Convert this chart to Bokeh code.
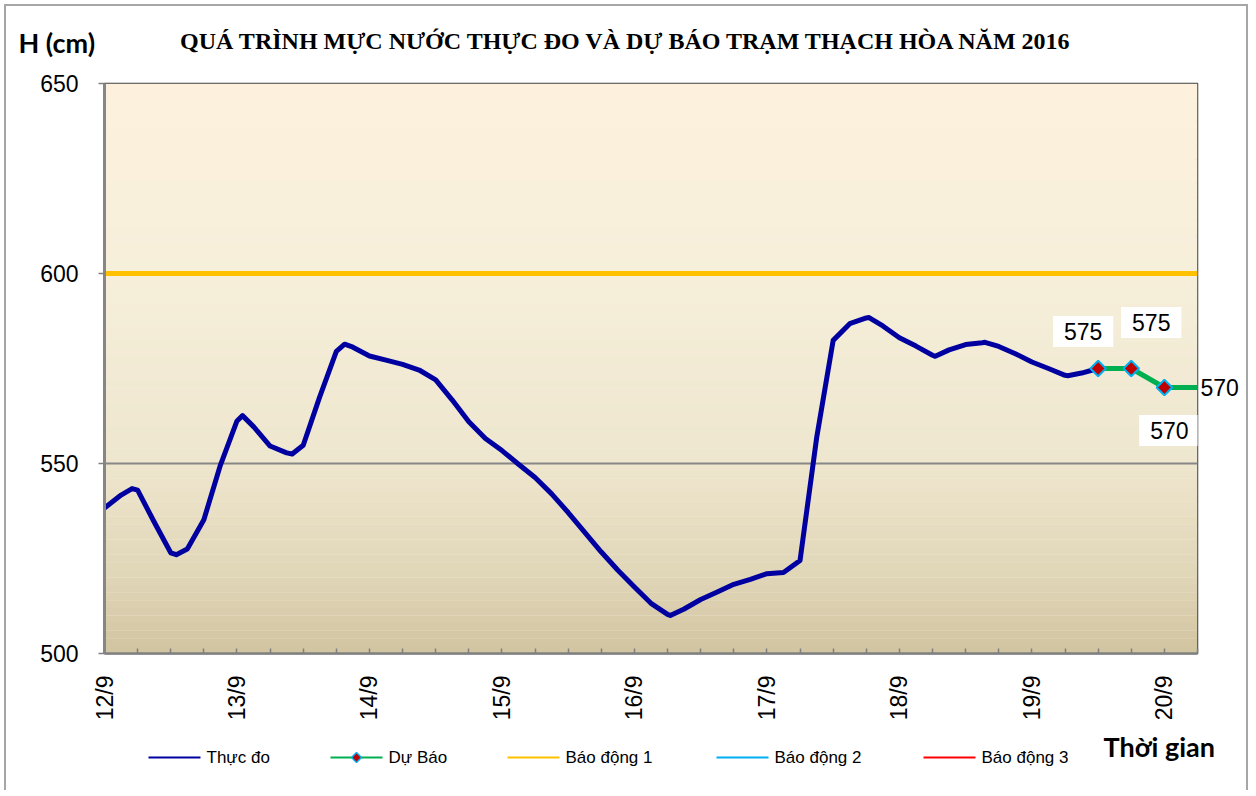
import math
import numpy as np
from bokeh.plotting import figure
from bokeh.layouts import column
from bokeh.models import Range1d, FixedTicker, Label, LinearAxis
from bokeh.core.properties import value
from bokeh.embed import file_html
from bokeh.resources import INLINE

# ---------------- data ----------------
# hours since 12/9 00:00
hours_meas = [0, 3, 5, 6, 9, 12, 13, 15, 18, 21, 24, 25, 27, 30, 33, 34, 36, 39, 42, 43.5,
              45, 48, 51, 54, 57, 60, 63, 66, 69, 72, 75, 78, 81, 84, 87, 90, 93, 96, 99,
              102, 102.5, 105, 108, 111, 114, 117, 120, 123, 126, 129, 132, 135, 138, 138.5,
              141, 144, 147, 150, 150.5, 153, 156, 159, 159.5, 162, 165, 168, 171, 174,
              174.5, 177, 180]
h_meas = [538.3, 541.7, 543.4, 543.0, 534.6, 526.5, 526.0, 527.5, 535.2, 549.6, 561.2,
          562.6, 559.7, 554.6, 552.8, 552.5, 554.8, 567.6, 579.5, 581.4, 580.6, 578.3,
          577.2, 576.1, 574.6, 572.0, 566.7, 561.0, 556.6, 553.4, 549.8, 546.3, 542.0,
          537.1, 531.9, 526.7, 521.9, 517.5, 513.2, 510.3, 510.0, 511.7, 514.2, 516.2,
          518.2, 519.5, 521.0, 521.3, 524.5, 556.7, 582.4, 586.8, 588.3, 588.4, 586.2,
          583.1, 580.9, 578.5, 578.2, 579.9, 581.3, 581.8, 581.9, 580.8, 578.9, 576.7,
          575.0, 573.2, 573.1, 573.8, 575.0]
hours_fc = [180, 186, 192, 198]
h_fc = [575, 575, 570, 570]
bao_dong_1 = 600
t_start, t_end = 0, 198
tick_hours = [0, 6, 12, 18, 24, 30, 36, 42, 48, 54, 60, 66, 72, 78, 84, 90, 96, 102, 108,
              114, 120, 126, 132, 138, 144, 150, 156, 162, 168, 174, 180, 186, 192, 198]
day_hours = [0, 24, 48, 72, 96, 120, 144, 168, 192]
day_labels = ["12/9", "13/9", "14/9", "15/9", "16/9", "17/9", "18/9", "19/9", "20/9"]
y_ticks = [500, 550, 600, 650]
y_min, y_max = 500, 650
title_text = "QUÁ TRÌNH MỰC NƯỚC THỰC ĐO VÀ DỰ BÁO TRẠM THẠCH HÒA NĂM 2016"
y_title = "H (cm)"
x_title = "Thời gian"
legend_labels = ["Thực đo", "Dự Báo", "Báo động 1", "Báo động 2", "Báo động 3"]

# ---------------- layout geometry (page pixels) ----------------
X0, Y0 = 6, 6          # content origin inside the outer chart border
W = 1240               # content width
HEAD_Y0, HEAD_Y1 = 6, 60
MAIN_Y0, MAIN_Y1 = 60, 730
FOOT_Y0, FOOT_Y1 = 730, 790
FRAME_L, FRAME_R, FRAME_T, FRAME_B = 104, 1197, 83, 653


def blank_fig(ytop, ybot):
    f = figure(width=W, height=ybot - ytop, x_range=Range1d(X0, X0 + W),
               y_range=Range1d(ybot, ytop), output_backend="svg", toolbar_location=None,
               x_axis_type=None, y_axis_type=None, min_border=0)
    f.outline_line_color = None
    f.grid.visible = False
    f.background_fill_color = "white"
    f.border_fill_color = "white"
    try:
        f.frame_align = False
    except Exception:
        pass
    return f


# ---------------- header ----------------
head = blank_fig(HEAD_Y0, HEAD_Y1)
head.text(x=[626], y=[40], text=[title_text], text_align="center", text_baseline="middle",
          text_font=value("Liberation Serif"), text_font_style="bold",
          text_font_size="24px", text_color="black")
head.text(x=[18], y=[42], text=[y_title], text_align="left", text_baseline="middle",
          text_font=value("Lato"), text_font_style="bold", text_font_size="27px",
          text_color="black")

# ---------------- main chart ----------------
p = figure(width=W, height=MAIN_Y1 - MAIN_Y0, x_range=Range1d(t_start, t_end),
           y_range=Range1d(y_min, y_max), output_backend="svg", toolbar_location=None,
           min_border_left=FRAME_L - X0, min_border_right=X0 + W - FRAME_R,
           min_border_top=FRAME_T - MAIN_Y0, min_border_bottom=MAIN_Y1 - FRAME_B)
p.background_fill_color = "#F6EFDA"
p.border_fill_color = "white"
p.outline_line_color = "#404040"
p.outline_line_width = 1.5

# background gradient (style only)
stops_v = [500, 520, 550, 600, 650]
stops_c = [(209, 196, 160), (224, 213, 183), (238, 230, 206), (246, 239, 218), (253, 241, 221)]
nb = 75
edges = np.linspace(y_min, y_max, nb + 1)
cols = []
for i in range(nb):
    m = 0.5 * (edges[i] + edges[i + 1])
    rgb = [int(round(np.interp(m, stops_v, [c[k] for c in stops_c]))) for k in range(3)]
    cols.append("#%02x%02x%02x" % tuple(rgb))
p.quad(left=t_start, right=t_end, bottom=edges[:-1], top=edges[1:], fill_color=cols,
       line_color=None, level="image")

# grid
p.xgrid.visible = False
p.ygrid.ticker = FixedTicker(ticks=y_ticks)
p.ygrid.grid_line_color = "#878787"
p.ygrid.grid_line_width = 2

# alarm level 1
p.line(x=[t_start, t_end], y=[bao_dong_1, bao_dong_1], line_color="#FFC000", line_width=5)

# measured
p.line(x=hours_meas, y=h_meas, line_color="#0000A0", line_width=5, line_join="round",
       line_cap="round")
# forecast
p.line(x=hours_fc, y=h_fc, line_color="#00B050", line_width=5, line_join="round")
p.scatter(x=hours_fc[:3], y=h_fc[:3], marker="square", angle=math.pi / 4, size=11,
          fill_color="#C00000", line_color="#00B0F0", line_width=2)

# data labels inside the frame
offsets = [(-15, 37), (20, 46), (5, -43)]
for tx, hy, (dx, dy) in zip(hours_fc[:3], h_fc[:3], offsets):
    p.add_layout(Label(x=tx, y=hy, x_offset=dx, y_offset=dy, text=str(hy),
                       text_align="center", text_baseline="middle",
                       text_font="Liberation Sans", text_font_size="23px", text_color="black",
                       background_fill_color="white", padding=(11, 7)))

# axes
xa = p.xaxis[0]
xa.ticker = FixedTicker(ticks=tick_hours)
xa.major_label_overrides = {h: (day_labels[day_hours.index(h)] if h in day_hours else "")
                            for h in tick_hours}
xa.major_label_orientation = math.pi / 2
xa.major_label_text_font = "Liberation Sans"
xa.major_label_text_font_size = "23px"
xa.major_label_text_color = "black"
xa.major_label_standoff = 22
xa.major_tick_in = 5
xa.major_tick_out = 0
xa.minor_tick_line_color = None
xa.major_tick_line_color = "#808080"
xa.major_tick_line_width = 1.5
xa.axis_line_color = "#808080"
xa.axis_line_width = 2.5

ya = p.yaxis[0]
ya.ticker = FixedTicker(ticks=y_ticks)
ya.major_label_text_font = "Liberation Sans"
ya.major_label_text_font_size = "23px"
ya.major_label_text_color = "black"
ya.major_label_standoff = 20
ya.major_tick_in = 0
ya.major_tick_out = 6
ya.minor_tick_line_color = None
ya.major_tick_line_color = "#808080"
ya.major_tick_line_width = 1.5
ya.axis_line_color = "#868686"
ya.axis_line_width = 3

# last data label beyond the frame edge: a right-side axis tick label
ra = LinearAxis(ticker=FixedTicker(ticks=h_fc[3:]), major_tick_in=0, major_tick_out=0,
                minor_tick_line_color=None, axis_line_color=None, major_label_standoff=3,
                major_label_text_font="Liberation Sans", major_label_text_font_size="23px",
                major_label_text_color="black")
p.add_layout(ra, "right")

# ---------------- footer: legend + x title ----------------
foot = blank_fig(FOOT_Y0, FOOT_Y1)
ly = 757
seg_x0 = [148, 330, 507, 716, 923]
seg_cols = ["#0000A0", "#00B050", "#FFC000", "#00B0F0", "#FF0000"]
foot.segment(x0=seg_x0, x1=[x + 52 for x in seg_x0], y0=[ly] * 5, y1=[ly] * 5,
             line_color=seg_cols, line_width=2)
foot.scatter(x=[seg_x0[1] + 26], y=[ly], marker="square", angle=math.pi / 4, size=7,
             fill_color="#C00000", line_color="#00B0F0", line_width=1.5)
foot.text(x=[x + 58 for x in seg_x0], y=[ly] * 5, text=legend_labels, text_align="left",
          text_baseline="middle", text_font=value("Liberation Sans"), text_font_size="17px",
          text_color="black")
foot.text(x=[1103], y=[746], text=[x_title], text_align="left", text_baseline="middle",
          text_font=value("Lato"), text_font_style="bold", text_font_size="27px",
          text_color="black")

layout = column(head, p, foot, spacing=0)
layout.margin = (4, 0, 0, 4)
layout.styles = {"border-left": "2px solid #a6a6a6", "border-top": "2px solid #a6a6a6",
                 "border-right": "2px solid #a6a6a6"}
open("out.html", "w").write(file_html(layout, INLINE))
